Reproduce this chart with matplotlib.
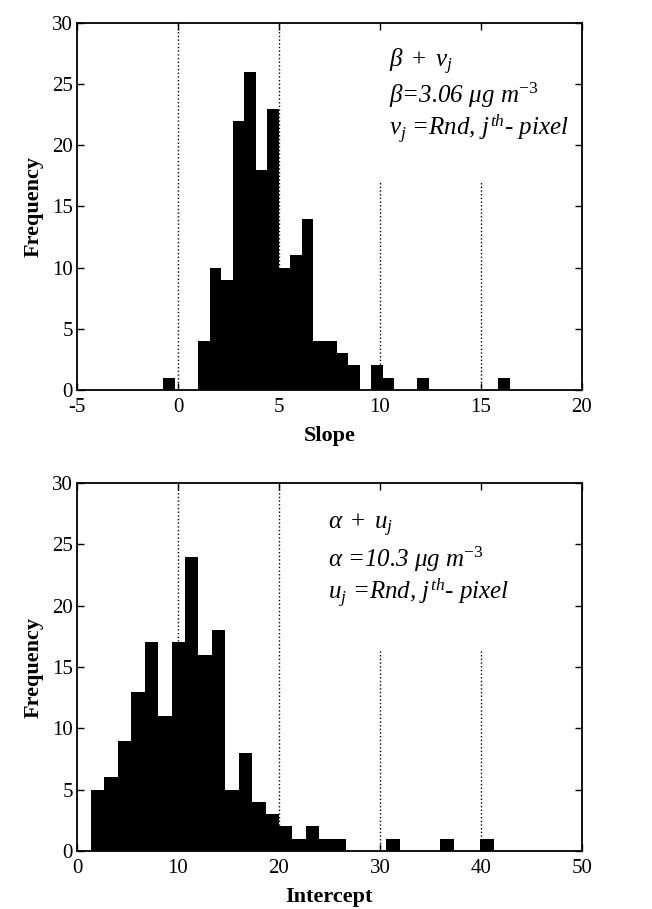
import matplotlib
matplotlib.use("Agg")
import matplotlib.pyplot as plt
import numpy as np

# histogram counts (30 bins each, MATLAB hist style)
slope_counts = [1, 0, 0, 4, 10, 9, 22, 26, 18, 23, 10, 11, 14, 4, 4,
                3, 2, 0, 2, 1, 0, 0, 1, 0, 0, 0, 0, 0, 0, 1]
slope_range = (-0.72, 16.42)

intercept_counts = [5, 6, 9, 13, 17, 11, 17, 24, 16, 18, 5, 8, 4, 3, 2,
                    1, 2, 1, 1, 0, 0, 0, 1, 0, 0, 0, 1, 0, 0, 1]
intercept_range = (1.38, 41.27)

slope_xticks = [-5, 0, 5, 10, 15, 20]
intercept_xticks = [0, 10, 20, 30, 40, 50]
yticks = [0, 5, 10, 15, 20, 25, 30]

slope_text = [r"$\beta\ +\ v_j$",
              r"$\beta$=3.06 $\mu$g m$^{-3}$",
              r"$v_j$ =Rnd, $j^{th}$- pixel"]
intercept_text = [r"$\alpha\ +\ u_j$",
                  r"$\alpha$ =10.3 $\mu$g m$^{-3}$",
                  r"$u_j$ =Rnd, $j^{th}$- pixel"]

plt.rcParams["font.family"] = ["Liberation Serif", "DejaVu Serif"]
plt.rcParams["axes.unicode_minus"] = False
plt.rcParams["mathtext.fontset"] = "custom"
plt.rcParams["mathtext.rm"] = "Liberation Serif"
plt.rcParams["mathtext.it"] = "Liberation Serif:italic"
plt.rcParams["mathtext.bf"] = "Liberation Serif:bold"

fig = plt.figure(figsize=(6.52, 9.09), dpi=100)
ax1 = fig.add_axes([0.1181, 0.5710, 0.7745, 0.4037])
ax2 = fig.add_axes([0.1181, 0.0638, 0.7745, 0.4048])


def draw_panel(ax, counts, rng, xticks, full_lines, short_lines, short_top,
               xlabel, lines, tx, ty):
    edges = np.linspace(rng[0], rng[1], len(counts) + 1)
    # dotted guide lines behind the bars
    for x in full_lines:
        ax.axvline(x, color="black", linestyle=":", linewidth=1.0, zorder=1)
    for x in short_lines:
        ax.vlines(x, 0, short_top, color="black", linestyle=":",
                  linewidth=1.0, zorder=1)
    ax.stairs(counts, edges, fill=True, color="black", zorder=2)
    ax.set_xlim(xticks[0], xticks[-1])
    ax.set_ylim(0, 30)
    ax.set_xticks(xticks)
    ax.set_yticks(yticks)
    ax.tick_params(direction="in", top=True, right=True, length=5,
                   width=1.0, labelsize=15)
    ax.tick_params(axis="x", pad=6)
    ax.tick_params(axis="y", pad=3)
    for sp in ax.spines.values():
        sp.set_linewidth(1.3)
        sp.set_zorder(3)
    ax.set_xlabel(xlabel, fontsize=16, fontweight="bold", labelpad=6)
    ax.set_ylabel("Frequency", fontsize=16, fontweight="bold", labelpad=6)
    for i, s in enumerate(lines):
        ax.text(tx, ty - i * 0.092, s, transform=ax.transAxes,
                fontsize=18, fontstyle="italic", va="center", ha="left")


draw_panel(ax1, slope_counts, slope_range, slope_xticks, [0, 5], [10, 15],
           17, "Slope", slope_text, 0.617, 0.895)
draw_panel(ax2, intercept_counts, intercept_range, intercept_xticks, [10, 20],
           [30, 40], 16.4, "Intercept", intercept_text, 0.497, 0.885)

plt.savefig("out.png", dpi=100)
